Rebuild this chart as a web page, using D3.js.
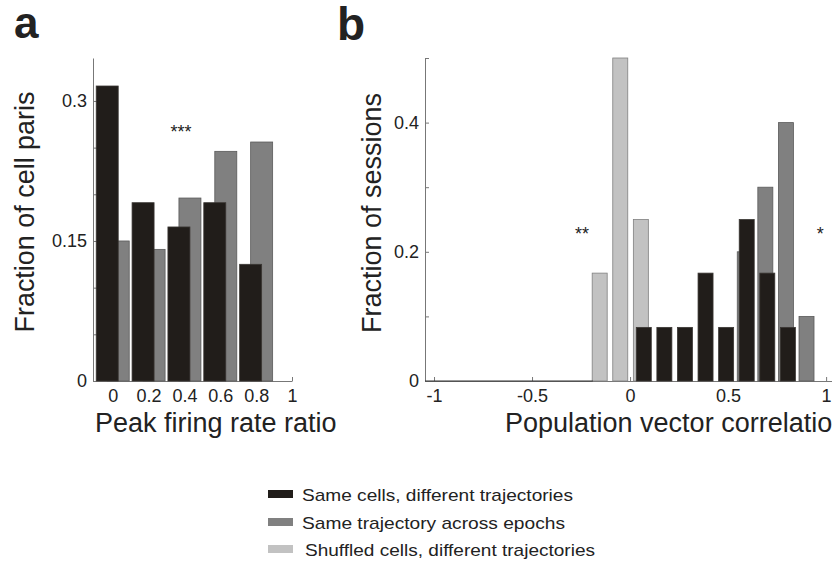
<!DOCTYPE html>
<html>
<head>
<meta charset="utf-8">
<script src="https://cdn.jsdelivr.net/npm/d3@7"></script>
<style>
  body { margin: 0; background: #fff; }
  text { font-family: "Liberation Sans", Arial, sans-serif; fill: #222; }
</style>
</head>
<body>
<script>
// panel a: peak firing rate ratio
const ratioBins = [0, 0.2, 0.4, 0.6, 0.8];
const ratioTicks = [0, 0.2, 0.4, 0.6, 0.8, 1];
const sameCellsRatio = [0.316, 0.191, 0.165, 0.191, 0.125];
const sameTrajRatio = [0.150, 0.141, 0.196, 0.246, 0.256];
const fracTicksA = [0, 0.05, 0.1, 0.15, 0.2, 0.25, 0.3];
const fracLabelsA = [0, 0.15, 0.3];

// panel b: population vector correlation
const shuffledBins = [-0.155, -0.05, 0.055];
const shuffledFrac = [0.167, 0.5, 0.25];
const sameCellsBins = [0.07, 0.175, 0.28, 0.385, 0.49, 0.595, 0.70, 0.805];
const sameCellsFrac = [0.083, 0.083, 0.083, 0.167, 0.083, 0.25, 0.167, 0.083];
const sameTrajBins = [0.585, 0.69, 0.795, 0.9];
const sameTrajFrac = [0.2, 0.3, 0.4, 0.1];
const corrTicks = [-1, -0.5, 0, 0.5, 1];
const fracTicksB = [0, 0.1, 0.2, 0.3, 0.4, 0.5];
const fracLabelsB = [0, 0.2, 0.4];

const seriesNames = ["Same cells, different trajectories", "Same trajectory across epochs", "Shuffled cells, different trajectories"];
const seriesColors = ["#211d1a", "#808080", "#c2c2c2"];

const W = 832, H = 565;
const svg = d3.select("body").append("svg")
    .attr("width", W)
    .attr("height", H);

const axisColor = "#777";

function styleAxis(g) {
    g.selectAll("path").attr("stroke", axisColor);
    g.selectAll("line").attr("stroke", axisColor);
    g.selectAll("text")
        .attr("font-size", 18)
        .attr("font-family", "Liberation Sans, Arial, sans-serif")
        .attr("fill", "#222");
}

// ---- panel a ----
const xA = d3.scaleLinear().domain([-0.11, 1]).range([93, 292]);
const yA = d3.scaleLinear().domain([0, 0.346]).range([381, 58]);

svg.append("g")
    .attr("transform", "translate(0,381)")
    .call(d3.axisBottom(xA).tickValues(ratioTicks).tickSizeInner(-4).tickSizeOuter(0).tickPadding(8)
        .tickFormat(d => d3.format("~g")(d)))
    .call(styleAxis);
svg.append("g")
    .attr("transform", "translate(93,0)")
    .call(d3.axisLeft(yA).tickValues(fracTicksA).tickSizeInner(-4).tickSizeOuter(0).tickPadding(6)
        .tickFormat(d => fracLabelsA.some(v => Math.abs(v - d) < 1e-9) ? d3.format("~g")(d) : ""))
    .call(styleAxis);

const barWA = xA(0.1227) - xA(0);
const offA = 0.0307;
svg.append("g").selectAll("rect")
    .data(ratioBins.map((b, i) => ({x: b + offA, v: sameTrajRatio[i]})))
    .join("rect")
    .attr("x", d => xA(d.x) - barWA / 2)
    .attr("y", d => yA(d.v))
    .attr("width", barWA)
    .attr("height", d => yA(0) - yA(d.v))
    .attr("fill", seriesColors[1])
    .attr("stroke", "#5a5a5a")
    .attr("stroke-width", 0.8);
svg.append("g").selectAll("rect")
    .data(ratioBins.map((b, i) => ({x: b - offA, v: sameCellsRatio[i]})))
    .join("rect")
    .attr("x", d => xA(d.x) - barWA / 2)
    .attr("y", d => yA(d.v))
    .attr("width", barWA)
    .attr("height", d => yA(0) - yA(d.v))
    .attr("fill", seriesColors[0])
    .attr("stroke", "#3a3633")
    .attr("stroke-width", 0.8);

svg.append("text")
    .attr("x", xA(0.381)).attr("y", yA(0.26))
    .attr("text-anchor", "middle").attr("font-size", 18)
    .text("***");

svg.append("text")
    .attr("transform", "translate(34,212) rotate(-90)")
    .attr("text-anchor", "middle").attr("font-size", 27)
    .attr("textLength", 241).attr("lengthAdjust", "spacingAndGlyphs")
    .text("Fraction of cell paris");
svg.append("text")
    .attr("x", 95).attr("y", 432)
    .attr("font-size", 27)
    .text("Peak firing rate ratio");
svg.append("text")
    .attr("x", 14).attr("y", 38)
    .attr("font-size", 44).attr("font-weight", "bold")
    .text("a");

// ---- panel b ----
const xB = d3.scaleLinear().domain([-1.046, 1.03]).range([425, 832]);
const yB = d3.scaleLinear().domain([0, 0.5]).range([381, 58]);

svg.append("g")
    .attr("transform", "translate(0,381)")
    .call(d3.axisBottom(xB).tickValues(corrTicks).tickSizeInner(-4).tickSizeOuter(0).tickPadding(8)
        .tickFormat(d => d3.format("~g")(d).replace("−", "-")))
    .call(styleAxis);
svg.append("g")
    .attr("transform", "translate(425,0)")
    .call(d3.axisLeft(yB).tickValues(fracTicksB).tickSizeInner(-4).tickSizeOuter(0).tickPadding(6)
        .tickFormat(d => fracLabelsB.some(v => Math.abs(v - d) < 1e-9) ? d3.format("~g")(d) : ""))
    .call(styleAxis);

const barWB = xB(0.0765) - xB(0);
const seriesB = [
    {bins: shuffledBins, vals: shuffledFrac, fill: seriesColors[2], stroke: "#808080"},
    {bins: sameTrajBins, vals: sameTrajFrac, fill: seriesColors[1], stroke: "#5a5a5a"},
    {bins: sameCellsBins, vals: sameCellsFrac, fill: seriesColors[0], stroke: "#3a3633"}
];
seriesB.forEach(s => {
    svg.append("g").selectAll("rect")
        .data(s.bins.map((b, i) => ({x: b, v: s.vals[i]})))
        .join("rect")
        .attr("x", d => xB(d.x) - barWB / 2)
        .attr("y", d => yB(d.v))
        .attr("width", barWB)
        .attr("height", d => yB(0) - yB(d.v))
        .attr("fill", s.fill)
        .attr("stroke", s.stroke)
        .attr("stroke-width", 0.8);
});
// zero-height bins along the baseline
svg.append("line")
    .attr("x1", xB(-1.046)).attr("x2", xB(-0.19))
    .attr("y1", yB(0)).attr("y2", yB(0))
    .attr("stroke", "#333").attr("stroke-width", 1.2);

svg.append("text")
    .attr("x", xB(-0.245)).attr("y", yB(0.218))
    .attr("text-anchor", "middle").attr("font-size", 18)
    .text("**");
svg.append("text")
    .attr("x", xB(0.97)).attr("y", yB(0.218))
    .attr("text-anchor", "middle").attr("font-size", 18)
    .text("*");

svg.append("text")
    .attr("transform", "translate(381,213) rotate(-90)")
    .attr("text-anchor", "middle").attr("font-size", 27)
    .attr("textLength", 240).attr("lengthAdjust", "spacingAndGlyphs")
    .text("Fraction of sessions");
svg.append("text")
    .attr("x", 505).attr("y", 432)
    .attr("font-size", 27)
    .text("Population vector correlation");
svg.append("text")
    .attr("x", 337).attr("y", 40)
    .attr("font-size", 46).attr("font-weight", "bold")
    .text("b");

// ---- legend ----
const legendRows = [
    {y: 490, tx: 302, len: 271},
    {y: 518, tx: 302, len: 263},
    {y: 545, tx: 305, len: 290}
];
const legend = svg.append("g").attr("class", "legend")
    .selectAll("g")
    .data(seriesNames)
    .join("g");
legend.append("rect")
    .attr("x", 268)
    .attr("y", (d, i) => legendRows[i].y)
    .attr("width", 25)
    .attr("height", 8)
    .attr("fill", (d, i) => seriesColors[i]);
legend.append("text")
    .attr("x", (d, i) => legendRows[i].tx)
    .attr("y", (d, i) => legendRows[i].y + 11)
    .attr("font-size", 17)
    .attr("textLength", (d, i) => legendRows[i].len)
    .attr("lengthAdjust", "spacingAndGlyphs")
    .text(d => d);
</script>
</body>
</html>
